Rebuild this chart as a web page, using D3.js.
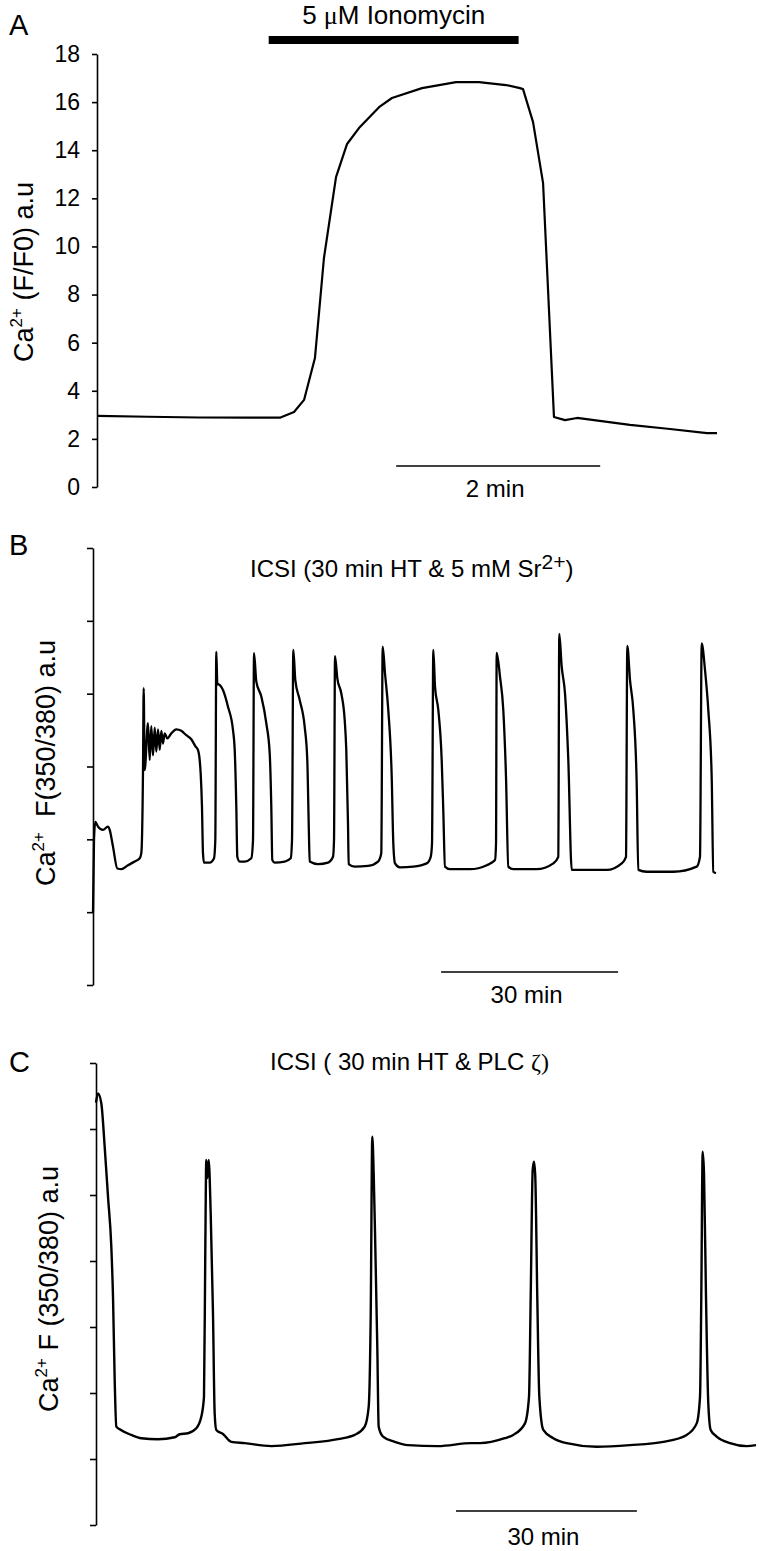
<!DOCTYPE html>
<html>
<head>
<meta charset="utf-8">
<script src="https://d3js.org/d3.v7.min.js"></script>
<style>
  body { margin: 0; background: #fff; }
  svg text { font-family: Arial, "Liberation Sans", Helvetica, sans-serif; fill: #000; }
</style>
</head>
<body>
<svg id="fig" width="759" height="1551"></svg>
<script>
// ---------------- data ----------------
// A: ionomycin, time in s, Ca2+ F/F0
var timeA  = [0, 30, 60, 90, 107.6, 115.9, 121.8, 128.2, 133.5, 140.6, 147.1, 154.1, 165.9, 173.5, 191.2,
              211.2, 224.7, 240.6, 248.8, 250.6, 256.5, 262.4, 268.8, 275.3, 282.4, 313.5, 337.1, 358.8, 364.7];
var ratioA = [2.96, 2.92, 2.89, 2.88, 2.88, 3.12, 3.62, 5.36, 9.52, 12.88, 14.26, 14.92, 15.79, 16.17, 16.58,
              16.83, 16.83, 16.71, 16.58, 16.54, 15.17, 12.63, 2.91, 2.78, 2.87, 2.58, 2.41, 2.24, 2.24];
var ticksA = [0, 2, 4, 6, 8, 10, 12, 14, 16, 18];
var ionomycin = [101, 248];      // s, drug application
var scaleA = [176, 120];         // start, length (s)

// B: ICSI + Sr2+, time in min, F(350/380)
var timeB = [0, 0.17, 0.39, 0.85, 1.69, 2.54, 2.83, 3.39, 4.12, 4.80, 5.93, 7.07, 7.92, 8.19, 8.47, 8.59, 8.76,
  9.32, 9.61, 9.88, 10.17, 10.46, 10.73, 11.02, 11.31, 11.58, 11.86, 12.15, 12.59, 13.27, 14.12, 14.97, 15.81,
  16.66, 17.34, 17.80, 18.08, 18.25, 18.47, 18.64, 18.81, 19.78, 20.51, 20.73, 20.90, 21.07, 21.47, 22.03,
  22.88, 23.73, 24.02, 24.29, 24.46, 24.86, 25.71, 26.83, 27.12, 27.29, 27.68, 28.53, 29.37, 29.95, 30.22,
  30.39, 30.80, 32.49, 33.51, 33.73, 33.95, 34.29, 35.03, 35.88, 36.32, 36.56, 36.73, 38.14, 39.83, 40.68,
  40.85, 41.02, 41.41, 42.08, 42.66, 42.93, 43.22, 43.34, 44.36, 46.61, 48.31, 48.86, 49.10, 49.49, 50.05,
  50.63, 50.90, 51.19, 52.03, 54.29, 56.56, 57.24, 57.46, 57.68, 57.97, 58.53, 59.10, 59.37, 59.66, 60.51,
  63.90, 66.73, 68.14, 68.31, 68.42, 68.98, 69.54, 70.00, 70.39, 71.24, 75.20, 78.02, 78.86, 79.03, 79.44,
  80.00, 80.56, 81.14, 82.54, 87.07, 89.61, 90.34, 90.56, 91.02, 91.58, 92.15, 92.42, 93.85, 98.36, 102.32,
  102.88, 103.17, 103.73, 104.29, 104.86, 105.14, 105.59];
var ratioB = [0.20, 0.398, 0.448, 0.435, 0.426, 0.435, 0.426, 0.380, 0.320, 0.318, 0.329, 0.339, 0.348, 0.362,
  0.582, 0.815, 0.590, 0.719, 0.618, 0.711, 0.631, 0.707, 0.641, 0.702, 0.646, 0.698, 0.663, 0.691, 0.677,
  0.691, 0.702, 0.698, 0.686, 0.675, 0.656, 0.645, 0.618, 0.581, 0.490, 0.362, 0.336, 0.336, 0.348, 0.398,
  0.915, 0.828, 0.824, 0.810, 0.764, 0.700, 0.645, 0.490, 0.352, 0.339, 0.339, 0.348, 0.398, 0.911, 0.833,
  0.792, 0.719, 0.636, 0.490, 0.343, 0.336, 0.339, 0.348, 0.398, 0.920, 0.837, 0.783, 0.709, 0.618, 0.444,
  0.339, 0.332, 0.336, 0.352, 0.398, 0.903, 0.842, 0.801, 0.728, 0.645, 0.444, 0.332, 0.325, 0.327, 0.339,
  0.362, 0.929, 0.856, 0.755, 0.572, 0.389, 0.334, 0.323, 0.325, 0.334, 0.352, 0.389, 0.920, 0.819, 0.755,
  0.618, 0.480, 0.325, 0.318, 0.318, 0.329, 0.343, 0.389, 0.912, 0.847, 0.755, 0.572, 0.325, 0.318, 0.318,
  0.334, 0.352, 0.964, 0.874, 0.801, 0.618, 0.316, 0.316, 0.316, 0.334, 0.352, 0.931, 0.837, 0.755, 0.554,
  0.316, 0.311, 0.311, 0.325, 0.352, 0.938, 0.865, 0.755, 0.572, 0.311, 0.307];
var ticksB = [0, 0.2, 0.4, 0.6, 0.8, 1.0, 1.2];
var scaleB = [59, 30];           // min

// C: ICSI + PLC zeta, time in min, F(350/380)
var timeC = [0, 0.33, 0.88, 1.44, 1.99, 2.54, 2.82, 3.10, 3.37, 3.93, 5.85, 7.51, 10.28, 13.05, 13.88, 15.26,
  16.63, 17.46, 17.91, 18.13, 18.29, 18.46, 18.69, 19.02, 19.40, 19.68, 19.95, 21.06, 22.44, 24.66, 29.07,
  34.61, 40.13, 42.90, 44.56, 45.22, 45.56, 45.82, 46.05, 46.32, 46.65, 46.88, 47.60, 49.54, 51.74, 56.72,
  62.24, 63.68, 67.78, 69.20, 71.14, 71.81, 72.09, 72.42, 72.64, 72.85, 73.18, 73.52, 74.18, 75.84, 78.06,
  83.04, 88.56, 94.08, 97.96, 99.62, 100.17, 100.38, 100.61, 100.83, 101.16, 101.54, 101.94, 102.93, 105.14,
  107.91, 109.45];
var ratioC = [1.28, 1.308, 1.278, 1.146, 0.995, 0.843, 0.692, 0.439, 0.298, 0.290, 0.273, 0.263, 0.260, 0.266,
  0.275, 0.278, 0.293, 0.328, 0.389, 0.843, 1.106, 1.051, 1.106, 0.945, 0.642, 0.338, 0.288, 0.276, 0.252,
  0.248, 0.239, 0.248, 0.260, 0.273, 0.298, 0.358, 0.642, 1.177, 1.066, 0.843, 0.540, 0.298, 0.268, 0.252,
  0.242, 0.239, 0.248, 0.248, 0.263, 0.273, 0.308, 0.389, 0.692, 1.076, 1.101, 1.055, 0.692, 0.389, 0.288,
  0.263, 0.248, 0.237, 0.242, 0.252, 0.273, 0.308, 0.389, 0.692, 1.131, 1.066, 0.692, 0.369, 0.288, 0.268,
  0.248, 0.239, 0.242];
var ticksC = [0, 0.2, 0.4, 0.6, 0.8, 1.0, 1.2, 1.4];
var scaleC = [59.7, 30];         // min

// ---------------- drawing ----------------
var svg = d3.select("#fig");

function styleAxis(g) {
    g.attr("font-size", 23).attr("font-family", null);
    g.select(".domain").attr("stroke-width", 1.6);
    g.selectAll(".tick line").attr("stroke-width", 1.6);
}

function yLabel(x, y, rest) {
    var t = svg.append("text")
        .attr("transform", "translate(" + x + "," + y + ") rotate(-90)")
        .attr("text-anchor", "middle")
        .attr("font-size", 27);
    t.append("tspan").text("Ca");
    t.append("tspan").attr("font-size", 17).attr("dy", -11).text("2+");
    t.append("tspan").attr("dy", 11).text(rest);
}

function trace(data, x, y, curve, w) {
    var line = d3.line()
        .x(function (d) { return x(d[0]); })
        .y(function (d) { return y(d[1]); })
        .curve(curve);
    svg.append("path")
        .datum(data)
        .attr("d", line)
        .attr("fill", "none")
        .attr("stroke", "#000")
        .attr("stroke-width", w)
        .attr("stroke-linejoin", "round");
}

function scaleBar(sb, x, yPix, label, textY) {
    svg.append("line")
        .attr("x1", x(sb[0])).attr("x2", x(sb[0] + sb[1]))
        .attr("y1", yPix).attr("y2", yPix)
        .attr("stroke", "#000").attr("stroke-width", 1.6);
    svg.append("text")
        .attr("x", (x(sb[0]) + x(sb[0] + sb[1])) / 2 - 3)
        .attr("y", textY)
        .attr("text-anchor", "middle")
        .attr("font-size", 24)
        .text(label);
}

function panelLetter(ch, y) {
    svg.append("text").attr("x", 9).attr("y", y).attr("font-size", 29).text(ch);
}

// ---- panel A ----
var xA = d3.scaleLinear().domain([0, 365]).range([97, 717.5]);
var yA = d3.scaleLinear().domain([0, 18]).range([487, 54]);

svg.append("g")
    .attr("transform", "translate(97,0)")
    .call(d3.axisLeft(yA).tickValues(ticksA).tickSize(5).tickSizeOuter(0).tickPadding(12))
    .call(styleAxis);

trace(d3.zip(timeA, ratioA), xA, yA, d3.curveLinear, 2.2);

svg.append("rect")
    .attr("x", xA(ionomycin[0])).attr("width", xA(ionomycin[1]) - xA(ionomycin[0]))
    .attr("y", 36).attr("height", 8)
    .attr("fill", "#000");

var iono = svg.append("text")
    .attr("x", (xA(ionomycin[0]) + xA(ionomycin[1])) / 2)
    .attr("y", 24)
    .attr("text-anchor", "middle")
    .attr("font-size", 26);
iono.append("tspan").text("5 ");
iono.append("tspan").attr("font-family", "'Liberation Serif', 'Times New Roman', serif").text("\u03bc");
iono.append("tspan").text("M Ionomycin");

scaleBar(scaleA, xA, 466, "2 min", 497);
yLabel(33, 272, " (F/F0) a.u");
panelLetter("A", 35);

// ---- panel B ----
var xB = d3.scaleLinear().domain([0, 106]).range([93, 718.4]);
var yB = d3.scaleLinear().domain([0, 1.2]).range([985, 548]);

svg.append("g")
    .attr("transform", "translate(93,0)")
    .call(d3.axisLeft(yB).tickValues(ticksB).tickSize(6).tickSizeOuter(0).tickFormat(""))
    .call(styleAxis);

trace(d3.zip(timeB, ratioB), xB, yB, d3.curveMonotoneX, 2.3);

var tB = svg.append("text").attr("x", 250).attr("y", 577).attr("font-size", 24);
tB.append("tspan").text("ICSI (30 min HT & 5 mM Sr");
tB.append("tspan").attr("dy", -8).attr("font-size", 21).text("2+");
tB.append("tspan").attr("dy", 8).text(")");

scaleBar(scaleB, xB, 972, "30 min", 1003);
yLabel(55, 763, "\u00a0\u00a0F(350/380) a.u");
panelLetter("B", 555);

// ---- panel C ----
var xC = d3.scaleLinear().domain([0, 110]).range([96, 759.3]);
var yC = d3.scaleLinear().domain([0, 1.4]).range([1525, 1063]);

svg.append("g")
    .attr("transform", "translate(96,0)")
    .call(d3.axisLeft(yC).tickValues(ticksC).tickSize(6).tickSizeOuter(0).tickFormat(""))
    .call(styleAxis);

trace(d3.zip(timeC, ratioC), xC, yC, d3.curveMonotoneX, 2.4);

var tC = svg.append("text").attr("x", 270).attr("y", 1070).attr("font-size", 24);
tC.append("tspan").text("ICSI ( 30 min HT & PLC ");
tC.append("tspan").attr("font-family", "'Liberation Serif', 'Times New Roman', serif").text("\u03b6)");

scaleBar(scaleC, xC, 1511, "30 min", 1545);
yLabel(58, 1289, " F (350/380) a.u");
panelLetter("C", 1072);
</script>
</body>
</html>
